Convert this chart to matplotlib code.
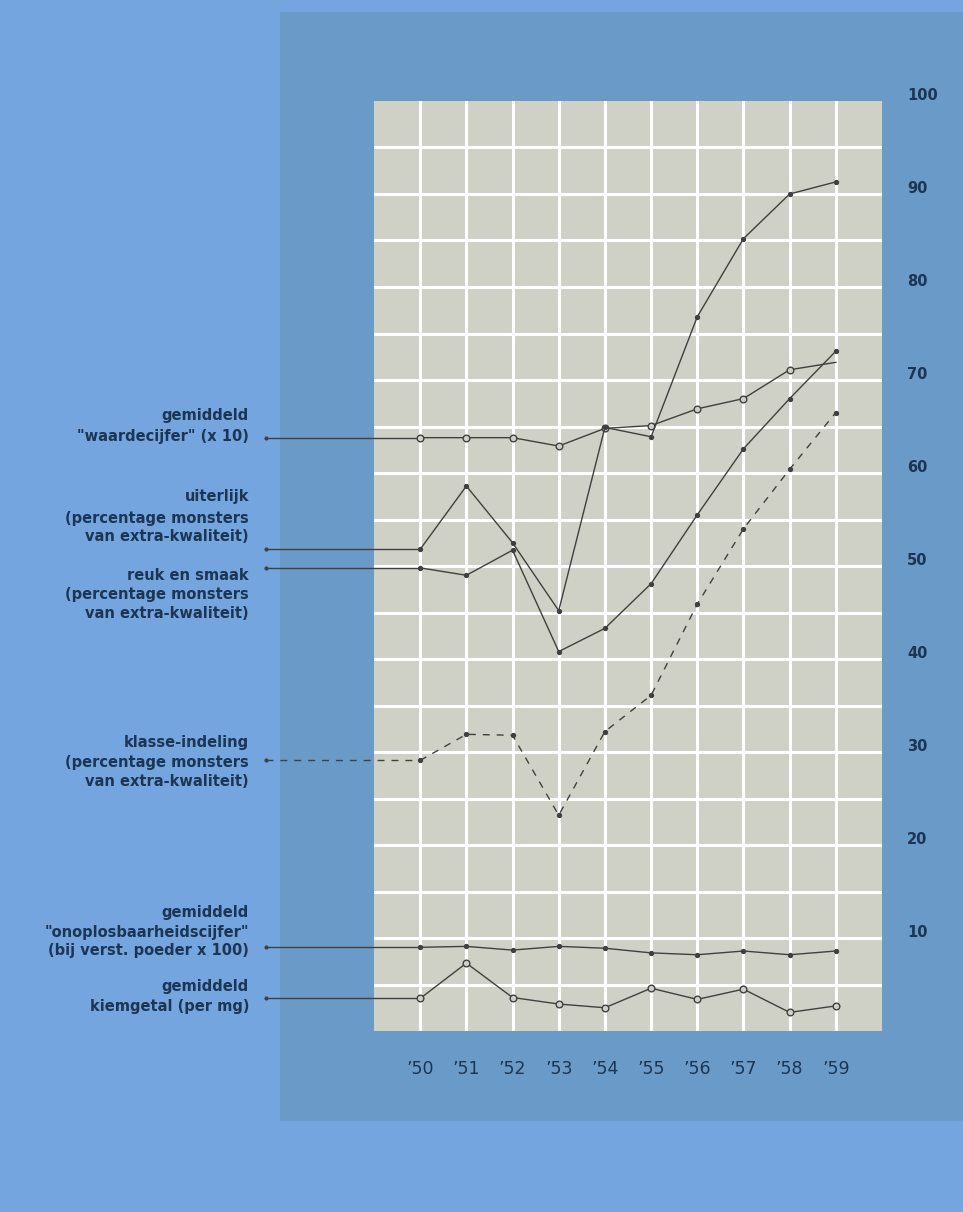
import matplotlib.pyplot as plt
import matplotlib.patches as patches

W, H = 963, 1212

years = [1950, 1951, 1952, 1953, 1954, 1955, 1956, 1957, 1958, 1959]
year_labels = ["\u201950", "\u201951", "\u201952", "\u201953", "\u201954",
               "\u201955", "\u201956", "\u201957", "\u201958", "\u201959"]
y_ticks = [10, 20, 30, 40, 50, 60, 70, 80, 90, 100]

# series
waardecijfer = [63.8, 63.8, 63.8, 62.9, 64.8, 65.1, 66.9, 68.0, 71.1, 71.9]
uiterlijk = [51.8, 58.6, 52.5, 45.2, 64.9, 63.9, 76.8, 85.2, 90.0, 91.3]
reuk_smaak = [49.8, 49.0, 51.7, 40.8, 43.3, 48.1, 55.5, 62.6, 68.0, 73.1]
klasse = [29.1, 31.9, 31.8, 23.2, 32.2, 36.1, 45.9, 54.0, 60.4, 66.5]
onoplosbaar = [9.0, 9.1, 8.7, 9.1, 8.9, 8.4, 8.2, 8.6, 8.2, 8.6]
kiemgetal = [3.5, 7.3, 3.6, 2.9, 2.5, 4.6, 3.4, 4.5, 2.0, 2.7]

label_waarde = ["gemiddeld", "\"waardecijfer\" (x 10)"]
label_uiterlijk = ["uiterlijk", "(percentage monsters", "van extra-kwaliteit)"]
label_reuk = ["reuk en smaak", "(percentage monsters", "van extra-kwaliteit)"]
label_klasse = ["klasse-indeling", "(percentage monsters", "van extra-kwaliteit)"]
label_onoplos = ["gemiddeld", "\"onoplosbaarheidscijfer\"", "(bij verst. poeder x 100)"]
label_kiem = ["gemiddeld", "kiemgetal (per mg)"]

BG = "#74a5df"
BOX = "#6a9ac8"
PANEL = "#cfd0c6"
INK = "#1c3552"
LINE = "#404040"


def fx(px):
    return px / W


def fy(py):
    return 1 - py / H


fig = plt.figure(figsize=(W / 100, H / 100), dpi=100, facecolor=BG)
fig.patches.append(patches.Rectangle((fx(280), fy(1121)), fx(963) - fx(280), fy(12) - fy(1121),
                                     transform=fig.transFigure, facecolor=BOX, edgecolor="none", zorder=-5))

ax = fig.add_axes([fx(374), fy(1031), fx(882) - fx(374), fy(101) - fy(1031)])
ax.set_zorder(2)
ax.set_facecolor(PANEL)
ax.set_xlim(1949, 1960)
ax.set_ylim(0, 100)
for s in ax.spines.values():
    s.set_visible(False)
ax.set_xticks([])
ax.set_yticks([])
for yr in years:
    ax.axvline(yr, color="white", lw=2.2, zorder=1)
for v in range(5, 100, 5):
    ax.axhline(v, color="white", lw=2.2, zorder=1)

# x position of the leader start, in data units (pixel 266 -> year)
lead_x = 1950 - (420 - 266) / 46.0


def series(vals, open_marker, dashed=False, skip_last=False):
    ls = (0, (5, 5)) if dashed else "-"
    mk = list(range(len(vals) - 1)) if skip_last else None
    if open_marker:
        ax.plot(years, vals, color=LINE, lw=1.0, ls=ls, marker="o", ms=4.8,
                mfc=PANEL, mec=LINE, mew=1.0, markevery=mk, zorder=3, clip_on=False)
    else:
        ax.plot(years, vals, color=LINE, lw=1.0, ls=ls, marker="o", ms=2.8,
                mfc=LINE, mec=LINE, markevery=mk, zorder=3, clip_on=False)
    ax.plot([lead_x, years[0]], [vals[0], vals[0]], color=LINE, lw=1.0, ls=ls,
            clip_on=False, zorder=2)
    ax.plot([lead_x], [vals[0]], marker="o", ms=2, color=LINE, clip_on=False)


series(waardecijfer, True, skip_last=True)
series(uiterlijk, False)
series(reuk_smaak, False)
series(klasse, False, dashed=True)
series(onoplosbaar, False)
series(kiemgetal, True)

# right-hand scale
for t in y_ticks:
    ax.text(1960 + 25 / 46.0, t + 0.6, str(t), ha="left", va="center", fontsize=10.5,
            fontweight="semibold", color=INK, family="DejaVu Sans", clip_on=False)

# year labels
for yr, lab in zip(years, year_labels):
    ax.text(yr, -4.1, lab, ha="center", va="center", fontsize=12.5, color=INK,
            family="DejaVu Sans", clip_on=False)

# left labels
blocks = [
    (label_waarde, [416, 437]),
    (label_uiterlijk, [497, 518, 537]),
    (label_reuk, [575, 595, 613]),
    (label_klasse, [742, 762, 781]),
    (label_onoplos, [912, 932, 951]),
    (label_kiem, [987, 1006]),
]
for lines, ys in blocks:
    for txt, py in zip(lines, ys):
        fig.text(fx(249), fy(py), txt, ha="right", va="center", fontsize=10.5,
                 fontweight="bold", color=INK, family="DejaVu Sans")

fig.savefig("out.png", dpi=100, facecolor=BG)
